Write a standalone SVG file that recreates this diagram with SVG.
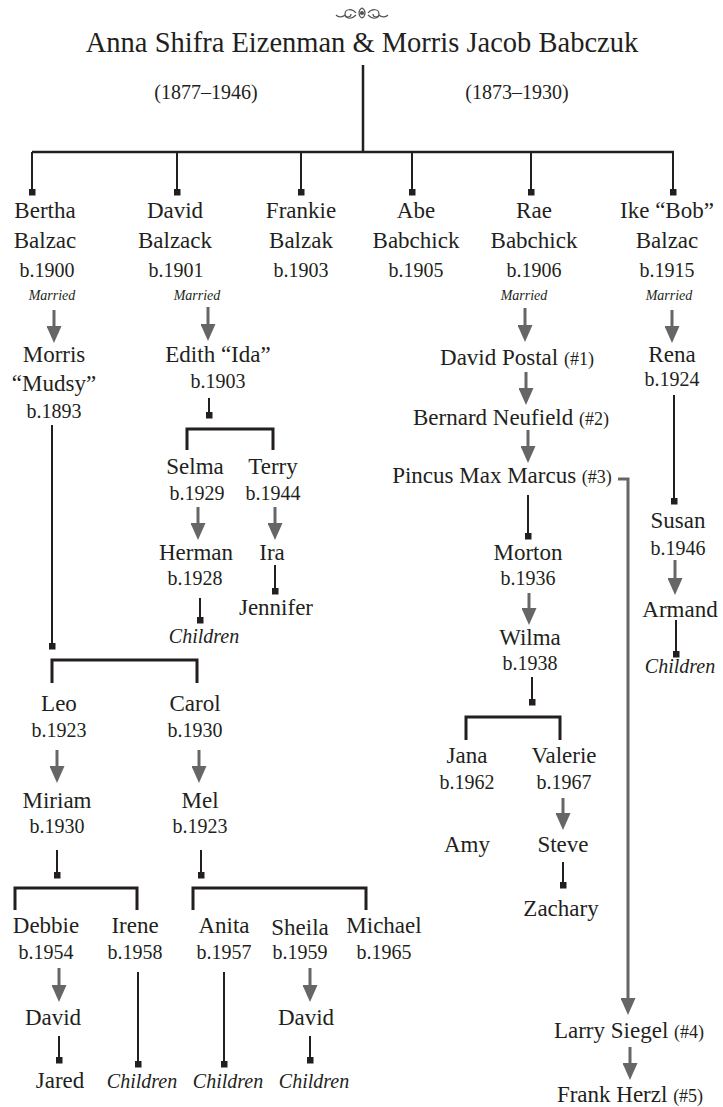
<svg xmlns="http://www.w3.org/2000/svg" width="723" height="1107" viewBox="0 0 723 1107">
<style>
text{font-family:'Liberation Serif','DejaVu Serif',serif;fill:#231f20;text-anchor:middle}
.t{font-size:28.5px}
.d{font-size:20px}
.n{font-size:23px}
.y{font-size:20px}
.m{font-size:14px;font-style:italic}
.c{font-size:20px;font-style:italic}
.s{font-size:18px}
.k{fill:none;stroke:#231f20;stroke-width:2}
.b{fill:none;stroke:#231f20;stroke-width:3}
.h{fill:none;stroke:#231f20;stroke-width:2.5}
.g{fill:none;stroke:#666;stroke-width:3}
.orn{fill:none;stroke:#555;stroke-width:1.2}
</style>
<defs>
<marker id="sq" viewBox="0 0 7 7" refX="3.5" refY="3.5" markerWidth="7" markerHeight="7" markerUnits="userSpaceOnUse">
<rect width="7" height="7" fill="#231f20"/>
</marker>
<marker id="ar" viewBox="0 0 17 15" refX="1" refY="7.5" markerWidth="17" markerHeight="15" markerUnits="userSpaceOnUse" orient="auto">
<path d="M0,0 L17,7.5 L0,15 Z" fill="#666"/>
</marker>
</defs>
<g id="ornament" class="orn">
<path d="M362,8 C358,10 358,16 362,18 C366,16 366,10 362,8 Z"/>
<path d="M356,13 C352,8 345,9 345,14 C345,18 351,18 351,14"/>
<path d="M368,13 C372,8 379,9 379,14 C379,18 373,18 373,14"/>
<path d="M345,15 C342,18 338,17 336,15"/>
<path d="M379,15 C382,18 386,17 388,15"/>
<path d="M356,15 C352,19 348,19 345,16"/>
<path d="M368,15 C372,19 376,19 379,16"/>
<circle cx="362" cy="13" r="1.5" fill="#555"/>
</g>
<g id="connectors">
<path class="h" d="M363,65 V152 M32,152 H674"/>
<g class="k" marker-end="url(#sq)">
<path d="M32,152 V192"/>
<path d="M177,152 V192"/>
<path d="M301,152 V192"/>
<path d="M412,152 V192"/>
<path d="M531,152 V192"/>
<path d="M673,152 V192"/>
<path d="M52,425 V646"/>
<path d="M209,398 V415"/>
<path d="M200,598 V620"/>
<path d="M275,565 V591"/>
<path d="M57,850 V875"/>
<path d="M201,850 V875"/>
<path d="M138,972 V1064"/>
<path d="M224,972 V1064"/>
<path d="M59,1036 V1060"/>
<path d="M310,1036 V1060"/>
<path d="M528,495 V536"/>
<path d="M532,677 V702"/>
<path d="M563,862 V885"/>
<path d="M674,395 V501"/>
<path d="M676,620 V654"/>
</g>
<g class="b">
<path d="M52,683 V660 H197 V683"/>
<path d="M187,450 V429 H273 V450"/>
<path d="M15,910 V888 H137 V910"/>
<path d="M193,910 V888 H366 V910"/>
<path d="M466,740 V717 H560 V740"/>
</g>
<g class="g" marker-end="url(#ar)">
<path d="M54,310 V327"/>
<path d="M208,307 V325"/>
<path d="M525,308 V326"/>
<path d="M672,310 V327"/>
<path d="M526,372 V389"/>
<path d="M528,430 V447"/>
<path d="M198,507 V524"/>
<path d="M275,507 V524"/>
<path d="M57,750 V767"/>
<path d="M199,750 V767"/>
<path d="M529,593 V609"/>
<path d="M675,560 V579"/>
<path d="M563,798 V814"/>
<path d="M59,968 V986"/>
<path d="M310,968 V986"/>
<path d="M618,479 H628 V999"/>
<path d="M630,1047 V1064"/>
</g>
</g>
<g id="title">
<text class="t" x="362" y="52">Anna Shifra Eizenman &amp; Morris Jacob Babczuk</text>
<text class="d" x="206" y="99">(1877–1946)</text>
<text class="d" x="517" y="99">(1873–1930)</text>
</g>
<g id="bertha"><text class="n" x="45" y="218">Bertha</text><text class="n" x="45" y="248">Balzac</text><text class="y" x="47" y="277">b.1900</text><text class="m" x="52" y="300">Married</text></g>
<g id="david-balzack"><text class="n" x="175" y="218">David</text><text class="n" x="175" y="248">Balzack</text><text class="y" x="176" y="277">b.1901</text><text class="m" x="197" y="300">Married</text></g>
<g id="frankie"><text class="n" x="301" y="218">Frankie</text><text class="n" x="301" y="248">Balzak</text><text class="y" x="301" y="277">b.1903</text></g>
<g id="abe"><text class="n" x="416" y="218">Abe</text><text class="n" x="416" y="248">Babchick</text><text class="y" x="416" y="277">b.1905</text></g>
<g id="rae"><text class="n" x="534" y="218">Rae</text><text class="n" x="534" y="248">Babchick</text><text class="y" x="534" y="277">b.1906</text><text class="m" x="524" y="300">Married</text></g>
<g id="ike"><text class="n" x="667" y="218">Ike “Bob”</text><text class="n" x="667" y="248">Balzac</text><text class="y" x="667" y="277">b.1915</text><text class="m" x="669" y="300">Married</text></g>
<g id="morris"><text class="n" x="54" y="362">Morris</text><text class="n" x="54" y="391">“Mudsy”</text><text class="y" x="54" y="418">b.1893</text></g>
<g id="edith"><text class="n" x="218" y="362">Edith “Ida”</text><text class="y" x="218" y="388">b.1903</text></g>
<g id="david-postal"><text class="n" x="517" y="365">David Postal <tspan class="s">(#1)</tspan></text></g>
<g id="bernard"><text class="n" x="511" y="425">Bernard Neufield <tspan class="s">(#2)</tspan></text></g>
<g id="pincus"><text class="n" x="502" y="483">Pincus Max Marcus <tspan class="s">(#3)</tspan></text></g>
<g id="rena"><text class="n" x="672" y="362">Rena</text><text class="y" x="672" y="386">b.1924</text></g>
<g id="selma"><text class="n" x="195" y="474">Selma</text><text class="y" x="197" y="500">b.1929</text></g>
<g id="terry"><text class="n" x="273" y="474">Terry</text><text class="y" x="273" y="500">b.1944</text></g>
<g id="herman"><text class="n" x="196" y="560">Herman</text><text class="y" x="195" y="585">b.1928</text></g>
<g id="ira"><text class="n" x="272" y="560">Ira</text></g>
<g id="jennifer"><text class="n" x="276" y="615">Jennifer</text></g>
<g id="herman-children"><text class="c" x="204" y="643">Children</text></g>
<g id="leo"><text class="n" x="59" y="711">Leo</text><text class="y" x="59" y="737">b.1923</text></g>
<g id="carol"><text class="n" x="195" y="711">Carol</text><text class="y" x="195" y="737">b.1930</text></g>
<g id="miriam"><text class="n" x="57" y="808">Miriam</text><text class="y" x="57" y="833">b.1930</text></g>
<g id="mel"><text class="n" x="200" y="808">Mel</text><text class="y" x="200" y="833">b.1923</text></g>
<g id="debbie"><text class="n" x="46" y="933">Debbie</text><text class="y" x="46" y="959">b.1954</text></g>
<g id="irene"><text class="n" x="135" y="933">Irene</text><text class="y" x="135" y="959">b.1958</text></g>
<g id="anita"><text class="n" x="224" y="933">Anita</text><text class="y" x="224" y="959">b.1957</text></g>
<g id="sheila"><text class="n" x="300" y="935">Sheila</text><text class="y" x="300" y="959">b.1959</text></g>
<g id="michael"><text class="n" x="384" y="933">Michael</text><text class="y" x="384" y="959">b.1965</text></g>
<g id="david-debbie"><text class="n" x="53" y="1025">David</text></g>
<g id="david-sheila"><text class="n" x="306" y="1025">David</text></g>
<g id="jared"><text class="n" x="60" y="1088">Jared</text></g>
<g id="irene-children"><text class="c" x="142" y="1088">Children</text></g>
<g id="anita-children"><text class="c" x="228" y="1088">Children</text></g>
<g id="david-children"><text class="c" x="314" y="1088">Children</text></g>
<g id="morton"><text class="n" x="528" y="560">Morton</text><text class="y" x="528" y="585">b.1936</text></g>
<g id="wilma"><text class="n" x="530" y="645">Wilma</text><text class="y" x="530" y="670">b.1938</text></g>
<g id="jana"><text class="n" x="467" y="763">Jana</text><text class="y" x="467" y="789">b.1962</text></g>
<g id="valerie"><text class="n" x="564" y="763">Valerie</text><text class="y" x="564" y="789">b.1967</text></g>
<g id="amy"><text class="n" x="467" y="852">Amy</text></g>
<g id="steve"><text class="n" x="563" y="852">Steve</text></g>
<g id="zachary"><text class="n" x="561" y="916">Zachary</text></g>
<g id="susan"><text class="n" x="678" y="528">Susan</text><text class="y" x="678" y="555">b.1946</text></g>
<g id="armand"><text class="n" x="680" y="617">Armand</text></g>
<g id="armand-children"><text class="c" x="680" y="673">Children</text></g>
<g id="larry"><text class="n" x="629" y="1038">Larry Siegel <tspan class="s">(#4)</tspan></text></g>
<g id="frank"><text class="n" x="630" y="1102">Frank Herzl <tspan class="s">(#5)</tspan></text></g>
</svg>
